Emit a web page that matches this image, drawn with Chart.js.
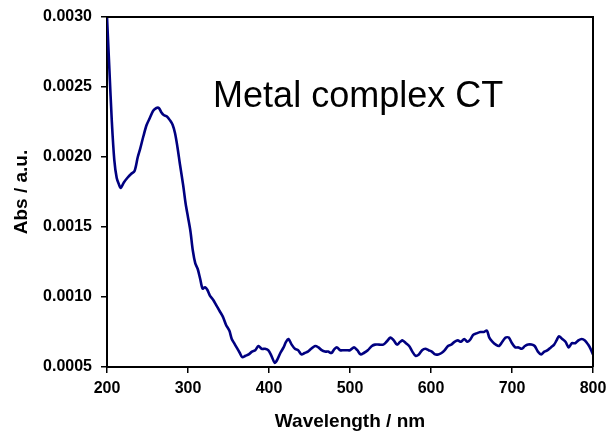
<!DOCTYPE html>
<html>
<head>
<meta charset="utf-8">
<script src="https://cdn.jsdelivr.net/npm/chart.js@4/dist/chart.umd.min.js"></script>
<style>
  html, body { margin: 0; padding: 0; background: #fff; }
  #wrap { width: 609px; height: 433px; }
</style>
</head>
<body>
<div id="wrap"><canvas id="c" width="609" height="433"></canvas></div>
<script>
const wavelengths = [200,203,206,209,212,215,217,221,225,230,234,238,241,245,249,253,257,261,264,267,270,274,278,281,284,287,290,294,297,300,303,306,309,312,315,318,321,324,327,331,335,339,343,347,351,354,357,360,364,367,371,375,379,383,387,391,395,399,403,407,410,414,418,421,424,428,432,436,440,444,448,452,457,461,465,469,473,477,481,484,488,492,496,500,505,509,513,517,522,527,531,536,541,545,550,554,558,562,565,569,573,577,581,585,589,593,597,601,605,609,613,617,621,625,629,633,637,641,645,649,652,656,661,665,669,672,676,680,684,688,692,696,700,704,708,712,716,720,724,728,732,736,740,744,748,752,755,758,762,766,770,774,778,782,786,790,794,797,800];
const absorbance = [0.00300,0.00262,0.00225,0.00198,0.00185,0.00180,0.00178,0.00182,0.00185,0.00188,0.00190,0.00200,0.00206,0.00215,0.00223,0.00228,0.00233,0.00235,0.00235,0.00232,0.00230,0.00229,0.00226,0.00223,0.00217,0.00207,0.00195,0.00180,0.00167,0.00157,0.00147,0.00133,0.00124,0.00120,0.00113,0.00106,0.00107,0.00105,0.00101,0.00098,0.00094,0.00090,0.00086,0.00080,0.00076,0.00070,0.00067,0.00064,0.00060,0.00057,0.00058,0.00059,0.00061,0.00062,0.00065,0.00063,0.00063,0.00062,0.00058,0.00053,0.00055,0.00060,0.00064,0.00068,0.00070,0.00066,0.00063,0.00062,0.00059,0.00060,0.00061,0.00063,0.00065,0.00064,0.00062,0.00061,0.00061,0.00060,0.00063,0.00064,0.00062,0.00062,0.00062,0.00062,0.00064,0.00062,0.00059,0.00060,0.00062,0.00065,0.00066,0.00066,0.00066,0.00068,0.00071,0.00069,0.00066,0.00068,0.00069,0.00067,0.00065,0.00061,0.00058,0.00059,0.00062,0.00063,0.00062,0.00061,0.00059,0.00059,0.00060,0.00062,0.00065,0.00066,0.00068,0.00069,0.00068,0.00070,0.00068,0.00070,0.00073,0.00074,0.00075,0.00075,0.00076,0.00071,0.00068,0.00066,0.00065,0.00068,0.00071,0.00071,0.00067,0.00064,0.00064,0.00063,0.00065,0.00066,0.00066,0.00065,0.00061,0.00059,0.00061,0.00062,0.00064,0.00066,0.00069,0.00072,0.00070,0.00068,0.00064,0.00067,0.00067,0.00069,0.00070,0.00069,0.00066,0.00063,0.00059];
const xTicks = [200,300,400,500,600,700,800];
const yTicks = ["0.0005","0.0010","0.0015","0.0020","0.0025","0.0030"];
const annotationText = "Metal complex CT";
const xTitle = "Wavelength / nm";
const yTitle = "Abs / a.u.";

const FONT = '"Liberation Sans", Arial, sans-serif';

const framePlugin = {
  id: 'frame',
  afterDatasetsDraw(chart) {
    const {ctx, chartArea: a} = chart;
    ctx.save();
    ctx.strokeStyle = '#000';
    ctx.lineWidth = 2;
    ctx.beginPath();
    ctx.moveTo(a.left, a.top);
    ctx.lineTo(a.right, a.top);
    ctx.lineTo(a.right, a.bottom);
    ctx.stroke();
    ctx.restore();
  }
};

const labelPlugin = {
  id: 'label',
  afterDraw(chart) {
    const {ctx, scales} = chart;
    ctx.save();
    ctx.font = '36px ' + FONT;
    ctx.fillStyle = '#000';
    ctx.textAlign = 'left';
    ctx.textBaseline = 'alphabetic';
    ctx.fillText(annotationText, scales.x.getPixelForValue(331), scales.y.getPixelForValue(0.002357));
    ctx.restore();
  }
};

new Chart(document.getElementById('c'), {
  type: 'line',
  data: {
    datasets: [{
      data: wavelengths.map((w, i) => ({x: w, y: absorbance[i]})),
      borderColor: '#000080',
      borderWidth: 2.6,
      pointRadius: 0,
      tension: 0.3,
      fill: false
    }]
  },
  options: {
    responsive: false,
    animation: false,
    plugins: { legend: { display: false }, tooltip: { enabled: false } },
    layout: { padding: { top: 17, right: 16, left: 0, bottom: 0 } },
    scales: {
      x: {
        type: 'linear',
        min: 200, max: 800,
        afterBuildTicks(s) { s.ticks = xTicks.map(v => ({value: v})); },
        afterFit(s) { s.height = 66; s.paddingLeft = 0; s.paddingRight = 0; },
        ticks: {
          color: '#000',
          font: { family: FONT, size: 16, weight: 'bold' },
          padding: 6,
          maxRotation: 0,
          callback: v => String(v)
        },
        grid: { display: true, drawOnChartArea: false, drawTicks: true, tickLength: 6, color: '#000', lineWidth: 1.5 },
        border: { display: true, color: '#000', width: 2 },
        title: { display: true, text: xTitle, color: '#000', font: { family: FONT, size: 19, weight: 'bold' }, padding: { top: 0, bottom: 0 } }
      },
      y: {
        type: 'linear',
        min: 0.0005, max: 0.0030,
        afterBuildTicks(s) { s.ticks = yTicks.map(v => ({value: parseFloat(v)})); },
        afterFit(s) { s.width = 107; s.paddingTop = 0; s.paddingBottom = 0; },
        ticks: {
          color: '#000',
          font: { family: FONT, size: 16, weight: 'bold' },
          padding: 9,
          callback: (v) => { const t = yTicks.find(s => Math.abs(parseFloat(s) - v) < 1e-9); return t || v.toFixed(4); }
        },
        grid: { display: true, drawOnChartArea: false, drawTicks: true, tickLength: 6, color: '#000', lineWidth: 1.5 },
        border: { display: true, color: '#000', width: 2 },
        title: { display: true, text: yTitle, color: '#000', font: { family: FONT, size: 19, weight: 'bold' }, padding: { top: 10, bottom: 0 } }
      }
    }
  },
  plugins: [framePlugin, labelPlugin]
});
</script>
</body>
</html>
